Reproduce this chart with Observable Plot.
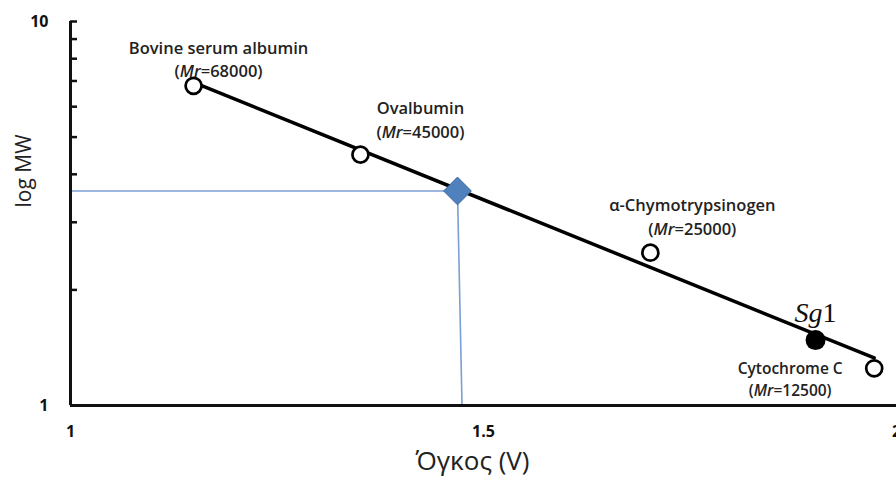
<!DOCTYPE html>
<html><head><meta charset="utf-8">
<script src="https://cdn.jsdelivr.net/npm/d3@7"></script>
<script src="https://cdn.jsdelivr.net/npm/@observablehq/plot@0.6"></script>
<style>body{margin:0;background:#fff}</style>
</head><body><div id="chart"></div>
<script>
// Calibration standards
const proteins = ["Bovine serum albumin", "Ovalbumin", "α-Chymotrypsinogen", "Cytochrome C"];
const mr = [68000, 45000, 25000, 12500];
const volume = [1.149, 1.351, 1.702, 1.973];
const logMW = [6.8, 4.5, 2.5, 1.25];          // Mr / 10000 on the log axis
// Fitted calibration line (end points)
const fitX = [1.149, 1.973];
const fitY = [6.94, 1.33];
// Sample Sg1
const sampleName = ["Sg1"];
const sampleX = [1.902];
const sampleY = [1.48];
// Unknown read-off point (diamond) and guide lines
const unknownX = [1.4685];
const unknownY = [3.62];
const dropX = [1.474];
// Axes
const xDomain = [1, 2];
const yDomain = [1, 10];
const xTicks = [1, 1.5, 2];
const yLabelTicks = [1, 10];
const yMinorTicks = [1, 2, 3, 4, 5, 6, 7, 8, 9, 10];
const xLabel = "Όγκος (V)";
const yLabel = "log MW";

const idx = proteins.map((_, i) => i);
const annot = (i, dx, dy, lh, fs = 16.5) => Plot.text([i], {
  x: d => volume[d], y: d => logMW[d],
  text: d => `${proteins[d]}\n(Mr=${mr[d]})`,
  dx, dy, lineHeight: lh, fontSize: fs, fontWeight: 600, fill: "#222",
  fontFamily: "Open Sans"
});

const chart = Plot.plot({
  width: 896, height: 490,
  marginLeft: 70, marginRight: 0, marginTop: 21, marginBottom: 85,
  x: {domain: xDomain},
  y: {type: "log", domain: yDomain},
  style: {fontFamily: "Open Sans", background: "white", color: "#111"},
  marks: [
    // guide lines to the unknown
    Plot.ruleY(unknownY, {x1: xDomain[0], x2: unknownX[0], stroke: "#7a9fd2", strokeWidth: 1.6}),
    Plot.link([0], {x1: d => unknownX[d], y1: d => unknownY[d], x2: d => dropX[d], y2: yDomain[0], stroke: "#7a9fd2", strokeWidth: 1.6}),
    // axes
    Plot.axisX({ticks: xTicks, tickSize: 0, tickPadding: 20, fontSize: 16, fontWeight: "bold", label: null, tickFormat: d => String(d)}),
    Plot.axisY({ticks: yLabelTicks, tickSize: 0, tickPadding: 22, fontSize: 16, fontWeight: "bold", label: null, tickFormat: d => String(d)}),
    Plot.axisY({ticks: yMinorTicks, tickSize: -7, strokeWidth: 2.5, stroke: "#111", fill: "none", label: null}),
    Plot.ruleX([xDomain[0]], {stroke: "#111", strokeWidth: 3}),
    Plot.ruleY([yDomain[0]], {stroke: "#111", strokeWidth: 3.2}),
    // calibration line
    Plot.line(fitX.map((x, i) => ({x, y: fitY[i]})), {x: "x", y: "y", stroke: "#000", strokeWidth: 3.5}),
    // standards
    Plot.dot(idx, {x: d => volume[d], y: d => logMW[d], r: 8, stroke: "#000", strokeWidth: 2.7, fill: "white"}),
    // sample
    Plot.dot([0], {x: d => sampleX[d], y: d => sampleY[d], r: 10, fill: "#000"}),
    Plot.text([0], {x: d => sampleX[d], y: d => sampleY[d], text: d => sampleName[d], dy: -27, fontSize: 28, fontFamily: "Liberation Serif", fontStyle: "italic", fill: "#111"}),
    // unknown diamond
    Plot.dot([0], {x: d => unknownX[d], y: d => unknownY[d], symbol: "diamond2", r: 12.5, fill: "#4f81bd", stroke: "#3a66a0", strokeWidth: 1}),
    // annotations
    annot(0, 25, -28, 1.45),
    annot(1, 60, -36, 1.42),
    annot(2, 42, -37, 1.42),
    annot(3, -84, 10, 1.4, 15.5),
    // axis titles
    Plot.text([xLabel], {frameAnchor: "bottom", text: d => d, dx: -11, dy: 64, fontSize: 26, fill: "#222"}),
    Plot.text([yLabel], {frameAnchor: "left", text: d => d, rotate: -90, dx: -46, dy: -6, fontSize: 21, fill: "#222"})
  ]
});

// italic "Mr" in the annotations, upright "1" in Sg1
const NS = "http://www.w3.org/2000/svg";
chart.querySelectorAll("tspan").forEach(t => {
  const s = t.textContent;
  if (s.startsWith("(Mr=")) {
    t.textContent = "(";
    const it = document.createElementNS(NS, "tspan");
    it.setAttribute("font-style", "italic");
    it.textContent = "Mr";
    t.appendChild(it);
    t.appendChild(document.createTextNode(s.slice(3)));
  }
});
chart.querySelectorAll("text").forEach(t => {
  if (t.textContent === "Sg1" && t.children.length === 0) {
    t.textContent = "Sg";
    const up = document.createElementNS(NS, "tspan");
    up.setAttribute("font-style", "normal");
    up.textContent = "1";
    t.appendChild(up);
  }
});
document.getElementById("chart").appendChild(chart);
</script>
</body></html>
